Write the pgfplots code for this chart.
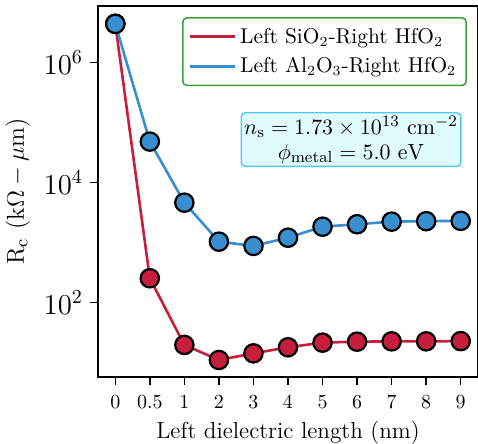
\documentclass[border=0pt]{standalone}
\usepackage{pgfplots}
\pgfplotsset{compat=1.18}
\definecolor{cred}{RGB}{198,30,60}
\definecolor{cblue}{RGB}{56,142,206}
\definecolor{lgreen}{RGB}{60,160,60}
\definecolor{boxfill}{RGB}{224,251,255}
\definecolor{boxdraw}{RGB}{80,200,240}
\begin{document}
\begin{tikzpicture}
\begin{axis}[
  name=ax,
  scale only axis,
  width=190pt, height=185.5pt,
  xmin=-0.5, xmax=10.5,
  ymode=log, ymin=5.73, ymax=8.7e6,
  xtick={0,1,2,3,4,5,6,7,8,9,10},
  xticklabels={0,0.5,1,2,3,4,5,6,7,8,9},
  ytick={1e2,1e4,1e6},
  minor ytick={},
  tick align=outside,
  tick pos=left,
  major tick length=4pt,
  tick style={black, line width=0.7pt},
  axis line style={black, line width=0.8pt},
  xticklabel style={font=\fontsize{10}{12}\selectfont, yshift=-1.5pt},
  yticklabel style={font=\fontsize{14}{16}\selectfont},
  xlabel={Left dielectric length (nm)},
  ylabel={R$_\mathrm{c}$ (k$\Omega-\mu$m)},
  xlabel style={font=\fontsize{11.6}{13}\selectfont, yshift=1pt},
  ylabel style={font=\fontsize{12.2}{14}\selectfont},
  legend cell align=left,
  legend style={at={(rel axis cs:0.971,0.970)}, anchor=north east,
    draw=lgreen, line width=0.8pt, rounded corners=2pt,
    font=\fontsize{10.7}{13}\selectfont, row sep=1.5pt, inner sep=3pt},
  legend image code/.code={\draw[#1, line width=1.5pt] (0cm,0cm) -- (0.78cm,0cm);},
]
\addplot[cred, line width=1.3pt, mark=*, mark size=4.6pt,
  mark options={fill=cred, draw=black, line width=1.1pt}]
  coordinates {(0,4.4e6) (1,253) (2,19.6) (3,11.0) (4,14.2) (5,17.9) (6,21.4) (7,22.2) (8,22.5) (9,22.5) (10,22.7)};
\addlegendentry{Left SiO$_2$-Right HfO$_2$}
\addplot[cblue, line width=1.3pt, mark=*, mark size=4.6pt,
  mark options={fill=cblue, draw=black, line width=1.1pt}]
  coordinates {(0,4.38e6) (1,4.79e4) (2,4.6e3) (3,1030) (4,875) (5,1200) (6,1830) (7,2010) (8,2220) (9,2260) (10,2290)};
\addlegendentry{Left Al$_2$O$_3$-Right HfO$_2$}
\node[draw=boxdraw, fill=boxfill, line width=0.7pt, rounded corners=2pt,
  align=center, inner sep=1.5pt, font=\fontsize{11.3}{12.5}\selectfont]
  at (rel axis cs:0.666,0.640)
  {$n_{\mathrm{s}} = 1.73 \times 10^{13}~\mathrm{cm}^{-2}$\\ $\phi_{\mathrm{metal}} = 5.0~\mathrm{eV}$};
\end{axis}
\path (ax.south west) ++(-49pt,-33.5pt) coordinate (bl);
\path (ax.north east) ++(0pt,3pt) coordinate (tr);
\pgfresetboundingbox
\path[use as bounding box] (bl) rectangle (tr);
\end{tikzpicture}
\end{document}
